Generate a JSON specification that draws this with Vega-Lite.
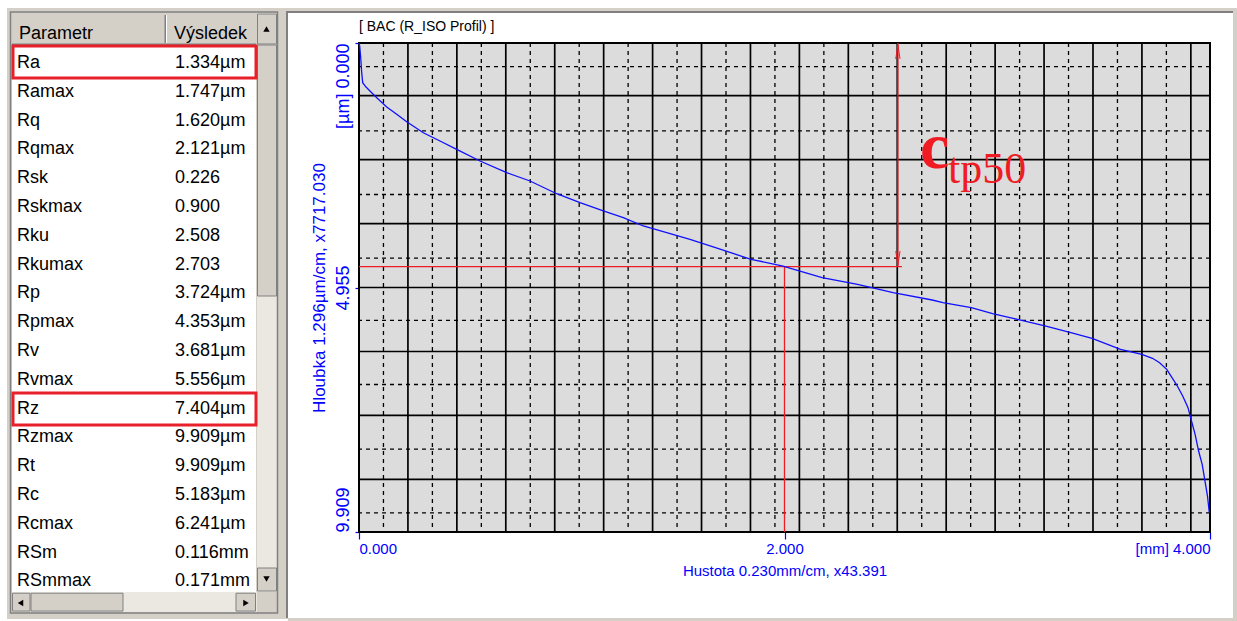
{
  "$schema": "https://vega.github.io/schema/vega-lite/v6.json",
  "background": "white",
  "padding": {"left": 7, "top": 7, "right": 0, "bottom": 0},
  "bounds": "flush",
  "spacing": 71,
  "config": {
    "view": {"stroke": null},
    "font": "Liberation Sans"
  },
  "datasets": {
    "one": [{}],
    "table": [
      {"row": 1, "param": "Ra", "value": "1.334µm"},
      {"row": 2, "param": "Ramax", "value": "1.747µm"},
      {"row": 3, "param": "Rq", "value": "1.620µm"},
      {"row": 4, "param": "Rqmax", "value": "2.121µm"},
      {"row": 5, "param": "Rsk", "value": "0.226"},
      {"row": 6, "param": "Rskmax", "value": "0.900"},
      {"row": 7, "param": "Rku", "value": "2.508"},
      {"row": 8, "param": "Rkumax", "value": "2.703"},
      {"row": 9, "param": "Rp", "value": "3.724µm"},
      {"row": 10, "param": "Rpmax", "value": "4.353µm"},
      {"row": 11, "param": "Rv", "value": "3.681µm"},
      {"row": 12, "param": "Rvmax", "value": "5.556µm"},
      {"row": 13, "param": "Rz", "value": "7.404µm"},
      {"row": 14, "param": "Rzmax", "value": "9.909µm"},
      {"row": 15, "param": "Rt", "value": "9.909µm"},
      {"row": 16, "param": "Rc", "value": "5.183µm"},
      {"row": 17, "param": "Rcmax", "value": "6.241µm"},
      {"row": 18, "param": "RSm", "value": "0.116mm"},
      {"row": 19, "param": "RSmmax", "value": "0.171mm"}
    ],
    "vmin": [{"x": 0.115}, {"x": 0.345}, {"x": 0.575}, {"x": 0.805}, {"x": 1.035}, {"x": 1.265}, {"x": 1.495}, {"x": 1.725}, {"x": 1.955}, {"x": 2.185}, {"x": 2.415}, {"x": 2.645}, {"x": 2.875}, {"x": 3.105}, {"x": 3.335}, {"x": 3.565}, {"x": 3.795}],
    "vmaj": [{"x": 0.23}, {"x": 0.46}, {"x": 0.69}, {"x": 0.92}, {"x": 1.15}, {"x": 1.38}, {"x": 1.61}, {"x": 1.84}, {"x": 2.07}, {"x": 2.3}, {"x": 2.53}, {"x": 2.76}, {"x": 2.99}, {"x": 3.22}, {"x": 3.45}, {"x": 3.68}, {"x": 3.91}],
    "hmin": [{"y": 0.48}, {"y": 1.78}, {"y": 3.07}, {"y": 4.36}, {"y": 5.62}, {"y": 6.92}, {"y": 8.23}, {"y": 9.52}],
    "hmaj": [{"y": 1.067}, {"y": 2.363}, {"y": 3.659}, {"y": 4.955}, {"y": 6.251}, {"y": 7.547}, {"y": 8.843}],
    "curve": [
      {"mm": 0, "um": 0}, {"mm": 0.0033, "um": 0.061}, {"mm": 0.008, "um": 0.298}, {"mm": 0.0127, "um": 0.602},
      {"mm": 0.0174, "um": 0.804}, {"mm": 0.0329, "um": 0.892}, {"mm": 0.0597, "um": 1.007}, {"mm": 0.086, "um": 1.121},
      {"mm": 0.1302, "um": 1.297}, {"mm": 0.1772, "um": 1.445}, {"mm": 0.2242, "um": 1.595}, {"mm": 0.3022, "um": 1.818},
      {"mm": 0.3807, "um": 1.986}, {"mm": 0.4592, "um": 2.154}, {"mm": 0.5687, "um": 2.391}, {"mm": 0.6942, "um": 2.628},
      {"mm": 0.8038, "um": 2.796}, {"mm": 0.9293, "um": 3.054}, {"mm": 1.0388, "um": 3.236}, {"mm": 1.1483, "um": 3.404},
      {"mm": 1.2423, "um": 3.54}, {"mm": 1.3363, "um": 3.708}, {"mm": 1.4463, "um": 3.844}, {"mm": 1.5558, "um": 3.978},
      {"mm": 1.6757, "um": 4.148}, {"mm": 1.8425, "um": 4.383}, {"mm": 1.993, "um": 4.519}, {"mm": 2.1767, "um": 4.756},
      {"mm": 2.3436, "um": 4.89}, {"mm": 2.5105, "um": 5.06}, {"mm": 2.6943, "um": 5.208}, {"mm": 2.7445, "um": 5.263},
      {"mm": 2.878, "um": 5.364}, {"mm": 2.9781, "um": 5.486}, {"mm": 3.0952, "um": 5.599}, {"mm": 3.2287, "um": 5.735},
      {"mm": 3.3457, "um": 5.871}, {"mm": 3.4458, "um": 5.984}, {"mm": 3.5793, "um": 6.207}, {"mm": 3.6794, "um": 6.308},
      {"mm": 3.7297, "um": 6.389}, {"mm": 3.7631, "um": 6.478}, {"mm": 3.7965, "um": 6.612}, {"mm": 3.8214, "um": 6.782},
      {"mm": 3.8463, "um": 6.95}, {"mm": 3.8717, "um": 7.153}, {"mm": 3.8966, "um": 7.39}, {"mm": 3.913, "um": 7.66},
      {"mm": 3.93, "um": 7.929}, {"mm": 3.9464, "um": 8.268}, {"mm": 3.9633, "um": 8.537}, {"mm": 3.9765, "um": 8.876},
      {"mm": 3.9882, "um": 9.18}, {"mm": 3.9967, "um": 9.518}
    ]
  },
  "hconcat": [
    {
      "width": 281,
      "height": 489,
      "data": {"name": "one"},
      "layer": [
        {"mark": {"type": "rect", "fill": "#d4d0c8"}, "encoding": {"x": {"datum": 7, "type": "quantitative", "axis": null, "scale": {"domain": [7, 288], "nice": false, "zero": false}}, "x2": {"datum": 288}, "y": {"datum": -0.9097, "type": "quantitative", "axis": null, "scale": {"domain": [0.3056, 17.2847], "nice": false, "zero": false, "reverse": true}}, "y2": {"datum": 20.3056}}},
        {"mark": {"type": "rect", "fill": "#d4d0c8"}, "encoding": {"x": {"datum": 288, "type": "quantitative", "axis": null}, "x2": {"datum": 1237}, "y": {"datum": -0.9097, "type": "quantitative", "axis": null}, "y2": {"datum": -0.7361}}},
        {"mark": {"type": "rect", "fill": "#808080"}, "encoding": {"x": {"datum": 288, "type": "quantitative", "axis": null}, "x2": {"datum": 1233}, "y": {"datum": -0.8056, "type": "quantitative", "axis": null}, "y2": {"datum": -0.7361}}},
        {"mark": {"type": "rect", "fill": "#808080"}, "encoding": {"x": {"datum": 286, "type": "quantitative", "axis": null}, "x2": {"datum": 288}, "y": {"datum": -0.8056, "type": "quantitative", "axis": null}, "y2": {"datum": 20.2708}}},
        {"mark": {"type": "rect", "fill": "#d4d0c8"}, "encoding": {"x": {"datum": 288, "type": "quantitative", "axis": null}, "x2": {"datum": 1237}, "y": {"datum": 20.2708, "type": "quantitative", "axis": null}, "y2": {"datum": 20.4097}}},
        {"mark": {"type": "rect", "fill": "#d4d0c8"}, "encoding": {"x": {"datum": 1233, "type": "quantitative", "axis": null}, "x2": {"datum": 1237}, "y": {"datum": -0.9097, "type": "quantitative", "axis": null}, "y2": {"datum": 20.4097}}},
        {"mark": {"type": "rect", "fill": "#ffffff"}, "encoding": {"x": {"datum": 12, "type": "quantitative", "axis": null}, "x2": {"datum": 256}, "y": {"datum": 0.375, "type": "quantitative", "axis": null}, "y2": {"datum": 19.3681}}},
        {"mark": {"type": "rect", "fill": "#d4d0c8"}, "encoding": {"x": {"datum": 12, "type": "quantitative", "axis": null}, "x2": {"datum": 256}, "y": {"datum": -0.7361, "type": "quantitative", "axis": null}, "y2": {"datum": 0.375}}},
        {"mark": {"type": "rect", "fill": "#808080"}, "encoding": {"x": {"datum": 12, "type": "quantitative", "axis": null}, "x2": {"datum": 256}, "y": {"datum": 0.3229, "type": "quantitative", "axis": null}, "y2": {"datum": 0.375}}},
        {"mark": {"type": "rect", "fill": "#808080"}, "encoding": {"x": {"datum": 164.5, "type": "quantitative", "axis": null}, "x2": {"datum": 166}, "y": {"datum": -0.6667, "type": "quantitative", "axis": null}, "y2": {"datum": 0.3056}}},
        {"mark": {"type": "rect", "fill": "#ffffff"}, "encoding": {"x": {"datum": 166, "type": "quantitative", "axis": null}, "x2": {"datum": 167}, "y": {"datum": -0.6667, "type": "quantitative", "axis": null}, "y2": {"datum": 0.3056}}},
        {"mark": {"type": "rect", "fill": "#ebe8e1"}, "encoding": {"x": {"datum": 257, "type": "quantitative", "axis": null}, "x2": {"datum": 277}, "y": {"datum": -0.7361, "type": "quantitative", "axis": null}, "y2": {"datum": 19.3681}}},
        {"mark": {"type": "rect", "fill": "#d4d0c8", "stroke": "#808080", "strokeWidth": 1}, "encoding": {"x": {"datum": 257.5, "type": "quantitative", "axis": null}, "x2": {"datum": 276.5}, "y": {"datum": -0.7014, "type": "quantitative", "axis": null}, "y2": {"datum": 0.3403}}},
        {"mark": {"type": "rect", "fill": "#d4d0c8", "stroke": "#808080", "strokeWidth": 1}, "encoding": {"x": {"datum": 257.5, "type": "quantitative", "axis": null}, "x2": {"datum": 276.5}, "y": {"datum": 0.375, "type": "quantitative", "axis": null}, "y2": {"datum": 9.0903}}},
        {"mark": {"type": "rect", "fill": "#d4d0c8", "stroke": "#808080", "strokeWidth": 1}, "encoding": {"x": {"datum": 257.5, "type": "quantitative", "axis": null}, "x2": {"datum": 276.5}, "y": {"datum": 18.5347, "type": "quantitative", "axis": null}, "y2": {"datum": 19.3333}}},
        {"mark": {"type": "rect", "fill": "#ebe8e1"}, "encoding": {"x": {"datum": 12, "type": "quantitative", "axis": null}, "x2": {"datum": 257}, "y": {"datum": 19.3681, "type": "quantitative", "axis": null}, "y2": {"datum": 20.0625}}},
        {"mark": {"type": "rect", "fill": "#d4d0c8", "stroke": "#808080", "strokeWidth": 1}, "encoding": {"x": {"datum": 12.5, "type": "quantitative", "axis": null}, "x2": {"datum": 30}, "y": {"datum": 19.41, "type": "quantitative", "axis": null}, "y2": {"datum": 20.03}}},
        {"mark": {"type": "rect", "fill": "#d4d0c8", "stroke": "#808080", "strokeWidth": 1}, "encoding": {"x": {"datum": 31, "type": "quantitative", "axis": null}, "x2": {"datum": 123}, "y": {"datum": 19.41, "type": "quantitative", "axis": null}, "y2": {"datum": 20.03}}},
        {"mark": {"type": "rect", "fill": "#d4d0c8", "stroke": "#808080", "strokeWidth": 1}, "encoding": {"x": {"datum": 236, "type": "quantitative", "axis": null}, "x2": {"datum": 255.5}, "y": {"datum": 19.41, "type": "quantitative", "axis": null}, "y2": {"datum": 20.03}}},
        {"mark": {"type": "rect", "fill": "#d4d0c8"}, "encoding": {"x": {"datum": 257, "type": "quantitative", "axis": null}, "x2": {"datum": 277}, "y": {"datum": 19.3681, "type": "quantitative", "axis": null}, "y2": {"datum": 20.0625}}},
        {"mark": {"type": "rect", "fill": "transparent", "stroke": "#808080", "strokeWidth": 1.5}, "encoding": {"x": {"datum": 10.5, "type": "quantitative", "axis": null}, "x2": {"datum": 277.5}, "y": {"datum": -0.7708, "type": "quantitative", "axis": null}, "y2": {"datum": 20.0972}}},
        {"mark": {"type": "rect", "fill": "transparent", "stroke": "#e8202a", "strokeWidth": 3}, "encoding": {"x": {"datum": 13, "type": "quantitative", "axis": null}, "x2": {"datum": 256}, "y": {"datum": 0.4097, "type": "quantitative", "axis": null}, "y2": {"datum": 1.5208}}},
        {"mark": {"type": "rect", "fill": "transparent", "stroke": "#e8202a", "strokeWidth": 3}, "encoding": {"x": {"datum": 13, "type": "quantitative", "axis": null}, "x2": {"datum": 256}, "y": {"datum": 12.4583, "type": "quantitative", "axis": null}, "y2": {"datum": 13.5694}}},
        {"mark": {"type": "text", "text": "Parametr", "align": "left", "baseline": "middle", "fontSize": 18, "color": "#000000"}, "encoding": {"x": {"datum": 19, "type": "quantitative", "axis": null}, "y": {"datum": 0, "type": "quantitative", "axis": null}}},
        {"mark": {"type": "text", "text": "Výsledek", "align": "left", "baseline": "middle", "fontSize": 18, "color": "#000000"}, "encoding": {"x": {"datum": 174, "type": "quantitative", "axis": null}, "y": {"datum": 0, "type": "quantitative", "axis": null}}},
        {"data": {"name": "table"}, "mark": {"type": "text", "align": "left", "baseline": "middle", "fontSize": 18, "color": "#000000"}, "encoding": {"x": {"datum": 17, "type": "quantitative", "axis": null}, "y": {"field": "row", "type": "quantitative", "axis": null}, "text": {"field": "param"}}},
        {"data": {"name": "table"}, "mark": {"type": "text", "align": "left", "baseline": "middle", "fontSize": 18, "color": "#000000"}, "encoding": {"x": {"datum": 175, "type": "quantitative", "axis": null}, "y": {"field": "row", "type": "quantitative", "axis": null}, "text": {"field": "value"}}},
        {"mark": {"type": "point", "shape": "triangle-up", "size": 40, "filled": true, "color": "#000000", "opacity": 1}, "encoding": {"x": {"datum": 266.5, "type": "quantitative", "axis": null}, "y": {"datum": -0.1806, "type": "quantitative", "axis": null}}},
        {"mark": {"type": "point", "shape": "triangle-down", "size": 40, "filled": true, "color": "#000000", "opacity": 1}, "encoding": {"x": {"datum": 266.5, "type": "quantitative", "axis": null}, "y": {"datum": 18.92, "type": "quantitative", "axis": null}}},
        {"mark": {"type": "point", "shape": "triangle-left", "size": 40, "filled": true, "color": "#000000", "opacity": 1}, "encoding": {"x": {"datum": 20.5, "type": "quantitative", "axis": null}, "y": {"datum": 19.75, "type": "quantitative", "axis": null}}},
        {"mark": {"type": "point", "shape": "triangle-right", "size": 40, "filled": true, "color": "#000000", "opacity": 1}, "encoding": {"x": {"datum": 246, "type": "quantitative", "axis": null}, "y": {"datum": 19.75, "type": "quantitative", "axis": null}}}
      ]
    },
    {
      "width": 851,
      "height": 489,
      "data": {"name": "one"},
      "title": {"text": "[ BAC (R_ISO Profil) ]", "anchor": "start", "frame": "group", "fontSize": 14, "fontWeight": "normal", "color": "#000000", "offset": 6},
      "layer": [
        {
          "mark": {"type": "rect", "fill": "#dcdcdc"},
          "encoding": {
            "x": {
              "datum": 0, "type": "quantitative",
              "scale": {"domain": [0, 4], "nice": false, "zero": false},
              "axis": {
                "values": [0, 2, 4],
                "labelExpr": "datum.value == 4 ? '[mm] 4.000' : format(datum.value, '.3f')",
                "title": "Hustota 0.230mm/cm, x43.391",
                "domain": false, "grid": false,
                "tickColor": "#0000ff", "tickSize": 7, "tickWidth": 1.2,
                "labelColor": "#0000ff", "labelFontSize": 15, "labelFlush": true, "labelPadding": 2, "labelOverlap": false,
                "titleColor": "#0000ff", "titleFontSize": 15, "titleFontWeight": "normal", "titlePadding": 7
              }
            },
            "x2": {"datum": 4},
            "y": {
              "datum": 0, "type": "quantitative",
              "scale": {"domain": [0, 9.909], "nice": false, "zero": false, "reverse": true},
              "axis": {
                "values": [0, 4.955, 9.909],
                "labelExpr": "datum.value == 0 ? '[µm] 0.000' : format(datum.value, '.3f')",
                "title": "Hloubka 1.296µm/cm, x7717.030",
                "domain": false, "grid": false,
                "tickColor": "#0000ff", "tickSize": 4, "tickWidth": 1.2,
                "labelAngle": 270,
                "labelAlign": {"expr": "datum.value == 0 ? 'right' : datum.value > 9 ? 'left' : 'center'"},
                "labelBaseline": "bottom",
                "labelFlush": false,
                "labelColor": "#0000ff", "labelFontSize": 18, "labelPadding": 3, "labelOverlap": false,
                "titleColor": "#0000ff", "titleFontSize": 17, "titleFontWeight": "normal", "titlePadding": 6
              }
            },
            "y2": {"datum": 9.909}
          }
        },
        {"data": {"name": "vmin"}, "mark": {"type": "rule", "stroke": "#000000", "strokeWidth": 1.3, "strokeDash": [4, 4]}, "encoding": {"x": {"field": "x", "type": "quantitative"}}},
        {"data": {"name": "hmin"}, "mark": {"type": "rule", "stroke": "#000000", "strokeWidth": 1.3, "strokeDash": [4, 4]}, "encoding": {"y": {"field": "y", "type": "quantitative"}}},
        {"data": {"name": "vmaj"}, "mark": {"type": "rule", "stroke": "#000000", "strokeWidth": 1.7}, "encoding": {"x": {"field": "x", "type": "quantitative"}}},
        {"data": {"name": "hmaj"}, "mark": {"type": "rule", "stroke": "#000000", "strokeWidth": 1.7}, "encoding": {"y": {"field": "y", "type": "quantitative"}}},
        {"mark": {"type": "rect", "fill": "transparent", "stroke": "#000000", "strokeWidth": 2}, "encoding": {"x": {"datum": 0, "type": "quantitative"}, "x2": {"datum": 4}, "y": {"datum": 0, "type": "quantitative"}, "y2": {"datum": 9.909}}},
        {"mark": {"type": "rule", "stroke": "#f01c24", "strokeWidth": 1.3}, "encoding": {"x": {"datum": 0, "type": "quantitative"}, "x2": {"datum": 2.552}, "y": {"datum": 4.533, "type": "quantitative"}}},
        {"mark": {"type": "rule", "stroke": "#f01c24", "strokeWidth": 1.3}, "encoding": {"x": {"datum": 2, "type": "quantitative"}, "y": {"datum": 4.533, "type": "quantitative"}, "y2": {"datum": 9.909}}},
        {"mark": {"type": "rule", "stroke": "#f01c24", "strokeWidth": 1.3}, "encoding": {"x": {"datum": 2.533, "type": "quantitative"}, "y": {"datum": 0, "type": "quantitative"}, "y2": {"datum": 4.533}}},
        {"mark": {"type": "point", "shape": "M-0.3,1L0,-1L0.3,1", "size": 200, "filled": false, "color": "#f01c24", "strokeWidth": 1, "opacity": 1}, "encoding": {"x": {"datum": 2.533, "type": "quantitative"}, "y": {"datum": 0.18, "type": "quantitative"}}},
        {"mark": {"type": "point", "shape": "M-0.3,-1L0,1L0.3,-1", "size": 200, "filled": false, "color": "#f01c24", "strokeWidth": 1, "opacity": 1}, "encoding": {"x": {"datum": 2.533, "type": "quantitative"}, "y": {"datum": 4.36, "type": "quantitative"}}},
        {"data": {"name": "curve"}, "mark": {"type": "line", "color": "#1010ff", "strokeWidth": 1.3}, "encoding": {"x": {"field": "mm", "type": "quantitative"}, "y": {"field": "um", "type": "quantitative"}}},
        {"mark": {"type": "text", "text": "c", "font": "Liberation Serif", "fontSize": 66, "fontWeight": "bold", "color": "#f01c24", "align": "left", "baseline": "alphabetic"}, "encoding": {"x": {"datum": 2.637, "type": "quantitative"}, "y": {"datum": 2.533, "type": "quantitative"}}},
        {"mark": {"type": "text", "text": "tp50", "font": "Liberation Serif", "fontSize": 44, "color": "#f01c24", "align": "left", "baseline": "alphabetic"}, "encoding": {"x": {"datum": 2.769, "type": "quantitative"}, "y": {"datum": 2.837, "type": "quantitative"}}}
      ]
    }
  ]
}
